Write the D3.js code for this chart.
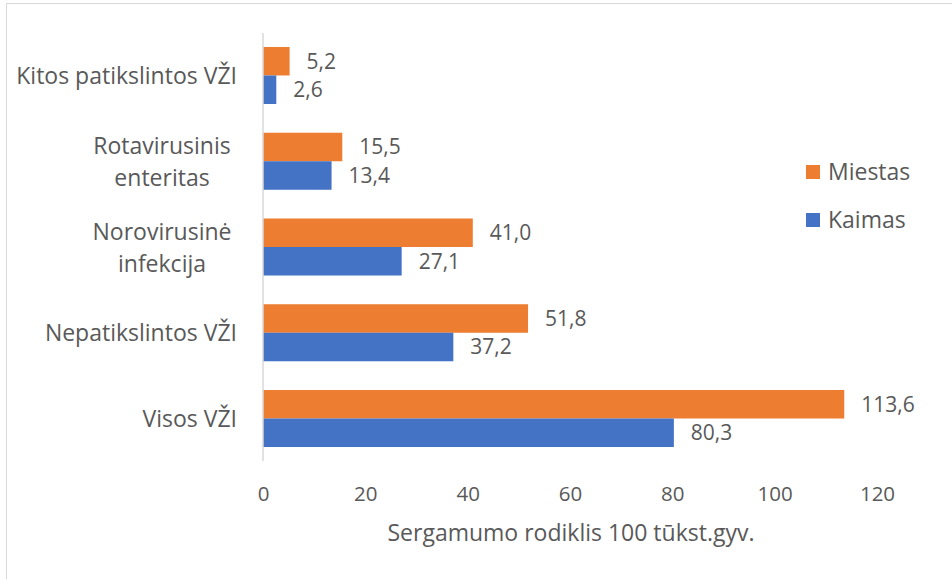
<!DOCTYPE html>
<html>
<head>
<meta charset="utf-8">
<script src="https://cdn.jsdelivr.net/npm/d3@7"></script>
<style>
  body { margin: 0; background: #fff; }
  svg text { font-family: "Open Sans", sans-serif; fill: #595959; }
</style>
</head>
<body>
<figure id="chart" style="margin:0"></figure>
<script>
// chart data
const categories = [
  ["Kitos patikslintos VŽI"],
  ["Rotavirusinis", "enteritas"],
  ["Norovirusinė", "infekcija"],
  ["Nepatikslintos VŽI"],
  ["Visos VŽI"]
];
const miestas = [5.2, 15.5, 41.0, 51.8, 113.6];
const kaimas = [2.6, 13.4, 27.1, 37.2, 80.3];
const seriesNames = ["Miestas", "Kaimas"];
const xTicks = [0, 20, 40, 60, 80, 100, 120];
const xTitle = "Sergamumo rodiklis 100 tūkst.gyv.";

const W = 952, H = 579;
const colors = {Miestas: "#ED7D31", Kaimas: "#4472C4"};

const svg = d3.select("#chart")
  .append("svg")
  .attr("width", W)
  .attr("height", H);

// outer frame (only top and left edges are inside the picture)
svg.append("path")
  .attr("d", `M6.5,${H}V3.5H${W}`)
  .attr("fill", "none")
  .attr("stroke", "#D9D9D9");

const catKeys = categories.map(c => c.join(" "));

const x = d3.scaleLinear()
  .domain([0, 120])
  .range([263, 877]);

const y = d3.scaleBand()
  .domain(catKeys)
  .range([33, 461])
  .paddingInner(0.335)
  .paddingOuter(0.163);

const sub = d3.scaleBand()
  .domain(seriesNames)
  .range([0, y.bandwidth()]);

const rows = catKeys.map((k, i) => ({key: k, Miestas: miestas[i], Kaimas: kaimas[i]}));

// bars
const groups = svg.append("g")
  .selectAll("g")
  .data(rows)
  .join("g")
  .attr("transform", d => `translate(0,${y(d.key)})`);

groups.selectAll("rect")
  .data(d => seriesNames.map(s => ({s, v: d[s]})))
  .join("rect")
  .attr("x", x(0))
  .attr("y", d => sub(d.s))
  .attr("width", d => x(d.v) - x(0))
  .attr("height", sub.bandwidth())
  .attr("fill", d => colors[d.s]);

// value labels
const fmt = v => v.toFixed(1).replace(".", ",");
groups.selectAll("text")
  .data(d => seriesNames.map(s => ({s, v: d[s]})))
  .join("text")
  .attr("x", d => x(d.v) + 17)
  .attr("y", d => sub(d.s) + sub.bandwidth() / 2)
  .attr("dy", "0.35em")
  .style("font-size", "21px")
  .text(d => fmt(d.v));

// y axis line
svg.append("line")
  .attr("x1", x(0)).attr("x2", x(0))
  .attr("y1", 33).attr("y2", 461)
  .attr("stroke", "#D9D9D9")
  .attr("stroke-width", 1.5);

// category labels
const catLabels = svg.append("g")
  .selectAll("text")
  .data(categories)
  .join("text")
  .attr("text-anchor", d => d.length > 1 ? "middle" : "end")
  .attr("transform", (d, i) => {
    const cy = y(catKeys[i]) + y.bandwidth() / 2;
    return d.length > 1 ? `translate(162,${cy + 1})` : `translate(237,${cy})`;
  })
  .style("font-size", "23px");

catLabels.selectAll("tspan")
  .data(d => d.map((t, j) => ({t, j, n: d.length})))
  .join("tspan")
  .attr("x", 0)
  .attr("y", d => (d.j - (d.n - 1) / 2) * 32)
  .attr("dy", "0.35em")
  .text(d => d.t);

// x axis tick labels
svg.append("g")
  .attr("transform", "translate(0,461)")
  .call(d3.axisBottom(x).tickValues(xTicks).tickSize(0).tickPadding(25))
  .call(g => g.select(".domain").remove())
  .call(g => g.selectAll("text")
    .style("font-size", "20.5px")
    .attr("fill", "#595959"));

// x axis title
svg.append("text")
  .attr("x", 571)
  .attr("y", 533)
  .attr("dy", "0.35em")
  .attr("text-anchor", "middle")
  .style("font-size", "23px")
  .text(xTitle);

// legend
const legend = svg.append("g")
  .selectAll("g")
  .data(seriesNames)
  .join("g")
  .attr("transform", (d, i) => `translate(806,${172 + i * 48})`);

legend.append("rect")
  .attr("x", 0).attr("y", -7)
  .attr("width", 14).attr("height", 14)
  .attr("fill", d => colors[d]);

legend.append("text")
  .attr("x", 22)
  .attr("dy", "0.35em")
  .style("font-size", "23px")
  .text(d => d);
</script>
</body>
</html>
